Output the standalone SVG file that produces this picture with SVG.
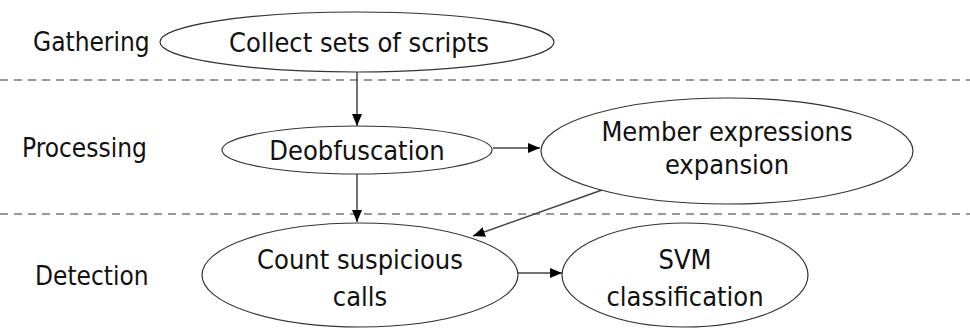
<svg xmlns="http://www.w3.org/2000/svg" width="970" height="328" viewBox="0 0 970 328">
<defs>
<marker id="ah" viewBox="0 0 12 10" refX="12" refY="5" markerWidth="12" markerHeight="10" markerUnits="userSpaceOnUse" orient="auto">
<path d="M0,0 L12,5 L0,10 Z" fill="#000"/>
</marker>
</defs>
<style>
.n{fill:#fff;stroke:#333;stroke-width:1.2}
.t{font-family:"DejaVu Sans Condensed","Liberation Sans",sans-serif;font-stretch:condensed;font-size:27px;fill:#111;text-anchor:middle}
.l{font-family:"DejaVu Sans Condensed","Liberation Sans",sans-serif;font-stretch:condensed;font-size:26px;fill:#111}
.d{stroke:#777;stroke-width:1.5;stroke-dasharray:8 6;fill:none}
.c{stroke:#444;stroke-width:1.5;fill:none;marker-end:url(#ah)}
</style>
<rect width="970" height="328" fill="#fff"/>
<g id="separators">
<line class="d" x1="0" y1="80" x2="970" y2="80"/>
<line class="d" x1="0" y1="214" x2="970" y2="214"/>
</g>
<g id="lanes">
<text class="l" x="33" y="51">Gathering</text>
<text class="l" x="22" y="157">Processing</text>
<text class="l" x="35" y="285">Detection</text>
</g>
<g id="connectors">
<line class="c" x1="357" y1="72" x2="357" y2="126"/>
<line class="c" x1="357" y1="174" x2="357" y2="222"/>
<line class="c" x1="493" y1="148" x2="540" y2="148"/>
<line class="c" x1="602" y1="190" x2="473" y2="236"/>
<line class="c" x1="518" y1="273" x2="562" y2="273"/>
</g>
<g id="collect">
<ellipse class="n" cx="357" cy="42" rx="197" ry="30"/>
<text class="t" x="359" y="52">Collect sets of scripts</text>
</g>
<g id="deobfuscation">
<ellipse class="n" cx="357" cy="150" rx="135" ry="24"/>
<text class="t" x="357" y="160">Deobfuscation</text>
</g>
<g id="member">
<ellipse class="n" cx="727" cy="151" rx="186" ry="53"/>
<text class="t" x="727" y="141">Member expressions</text>
<text class="t" x="727" y="174">expansion</text>
</g>
<g id="count">
<ellipse class="n" cx="360" cy="275" rx="158" ry="52"/>
<text class="t" x="360" y="269">Count suspicious</text>
<text class="t" x="360" y="306">calls</text>
</g>
<g id="svm">
<ellipse class="n" cx="685" cy="275" rx="123" ry="52"/>
<text class="t" x="685" y="269">SVM</text>
<text class="t" x="685" y="306">classification</text>
</g>
</svg>
